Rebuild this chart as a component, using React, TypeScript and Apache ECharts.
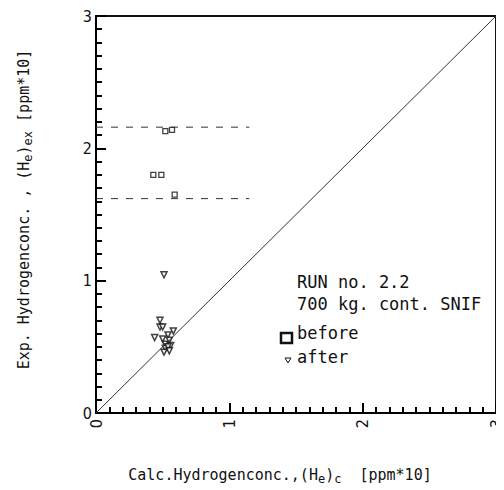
import React, { useEffect, useRef } from "react";
import * as echarts from "echarts";

const beforePoints: number[][] = [
  [0.52, 2.13], [0.57, 2.14],
  [0.43, 1.8], [0.49, 1.8],
  [0.59, 1.65],
];
const afterPoints: number[][] = [
  [0.51, 1.045],
  [0.48, 0.7], [0.48, 0.65], [0.5, 0.65],
  [0.44, 0.57], [0.54, 0.59], [0.58, 0.62],
  [0.5, 0.56], [0.55, 0.55], [0.52, 0.52], [0.56, 0.51],
  [0.52, 0.49], [0.54, 0.5], [0.55, 0.47], [0.51, 0.46],
];
const refUpper: number[][] = [[0, 2.16], [1.15, 2.16]];
const refLower: number[][] = [[0, 1.62], [1.15, 1.62]];
const diagonal: number[][] = [[0, 0], [3, 3]];
const legendLines = ["RUN no. 2.2", "700 kg. cont. SNIF", "before", "after"];

const FONT = "'DejaVu Sans Condensed', 'DejaVu Sans', sans-serif";
const MONO = "'DejaVu Sans Mono', 'Liberation Mono', monospace";

export default function App() {
  const ref = useRef<HTMLDivElement>(null);
  useEffect(() => {
    if (!ref.current) return;
    const chart = echarts.init(ref.current, null, { renderer: "svg" });
    const subRich = {
      sub: { fontSize: 12, fontFamily: MONO, color: "#111", padding: [8, 0, 0, 0], verticalAlign: "bottom" },
    };
    chart.setOption({
      animation: false,
      backgroundColor: "#fff",
      grid: {
        left: 88, right: 8, top: 6, bottom: 77,
        show: true, borderColor: "#111", borderWidth: 2, backgroundColor: "transparent",
      },
      xAxis: [
        {
          type: "value",
          min: 0, max: 3, interval: 1,
          axisLine: { show: true, lineStyle: { color: "#000", width: 2 } },
          axisTick: { show: true, inside: true, length: 10, lineStyle: { color: "#000", width: 2 } },
          splitLine: { show: false },
          axisLabel: { rotate: 90, color: "#111", fontSize: 16, fontFamily: FONT, margin: 6 },
          name: "Calc.Hydrogenconc.,(H{sub|e}){sub|c}  [ppm*10]",
          nameLocation: "middle",
          nameGap: 52,
          nameTextStyle: {
            color: "#111", fontFamily: MONO, fontSize: 15, padding: [0, 32, 0, 0], rich: subRich,
          },
        },
        {
          type: "value", min: 0, max: 3, interval: 0.1, position: "bottom",
          axisLine: { show: false }, axisLabel: { show: false }, splitLine: { show: false },
          axisTick: { show: true, inside: true, length: 6, lineStyle: { color: "#000", width: 2 } },
        },
      ],
      yAxis: [
        {
          type: "value",
          min: 0, max: 3, interval: 1,
          axisLine: { show: true, lineStyle: { color: "#000", width: 2 } },
          axisTick: { show: true, inside: true, length: 10, lineStyle: { color: "#000", width: 2 } },
          splitLine: { show: false },
          axisLabel: { color: "#111", fontSize: 16, fontFamily: FONT, margin: 4 },
          name: "Exp. Hydrogenconc. , (H{sub|e}){sub|ex} [ppm*10]",
          nameLocation: "middle",
          nameRotate: 90,
          nameGap: 62,
          nameTextStyle: {
            color: "#111", fontFamily: MONO, fontSize: 15, padding: [0, 0, 0, 10], rich: subRich,
          },
        },
        {
          type: "value", min: 0, max: 3, interval: 0.1, position: "left",
          axisLine: { show: false }, axisLabel: { show: false }, splitLine: { show: false },
          axisTick: { show: true, inside: true, length: 6, lineStyle: { color: "#000", width: 2 } },
        },
      ],
      series: [
        {
          type: "line", data: diagonal, symbol: "none",
          lineStyle: { color: "#333", width: 1 }, silent: true,
        },
        {
          type: "line", data: refUpper, symbol: "none",
          lineStyle: { color: "#333", width: 1, type: [7, 8] }, silent: true,
        },
        {
          type: "line", data: refLower, symbol: "none",
          lineStyle: { color: "#333", width: 1, type: [7, 8] }, silent: true,
        },
        {
          type: "scatter", data: beforePoints, symbol: "rect", symbolSize: 5,
          itemStyle: { color: "#fff", borderColor: "#111", borderWidth: 1.3 },
        },
        {
          type: "scatter", data: afterPoints, symbol: "triangle", symbolRotate: 180, symbolSize: 6,
          itemStyle: { color: "#fff", borderColor: "#111", borderWidth: 1.5 },
        },
      ],
      graphic: [
        { type: "text", left: 289, top: 265, style: { text: legendLines[0], font: `17px ${MONO}`, fill: "#111" } },
        { type: "text", left: 289, top: 287, style: { text: legendLines[1], font: `17px ${MONO}`, fill: "#111" } },
        { type: "rect", shape: { x: 273, y: 325, width: 11, height: 10 }, style: { fill: "#fff", stroke: "#111", lineWidth: 2.5 } },
        { type: "text", left: 289, top: 316, style: { text: legendLines[2], font: `17px ${MONO}`, fill: "#111" } },
        { type: "polygon", shape: { points: [[277, 350], [283, 350], [280, 355]] }, style: { fill: "#fff", stroke: "#111", lineWidth: 1 } },
        { type: "text", left: 289, top: 340, style: { text: legendLines[3], font: `17px ${MONO}`, fill: "#111" } },
      ],
    });
    return () => chart.dispose();
  }, []);
  return <div ref={ref} style={{ width: 496, height: 482 }} />;
}
